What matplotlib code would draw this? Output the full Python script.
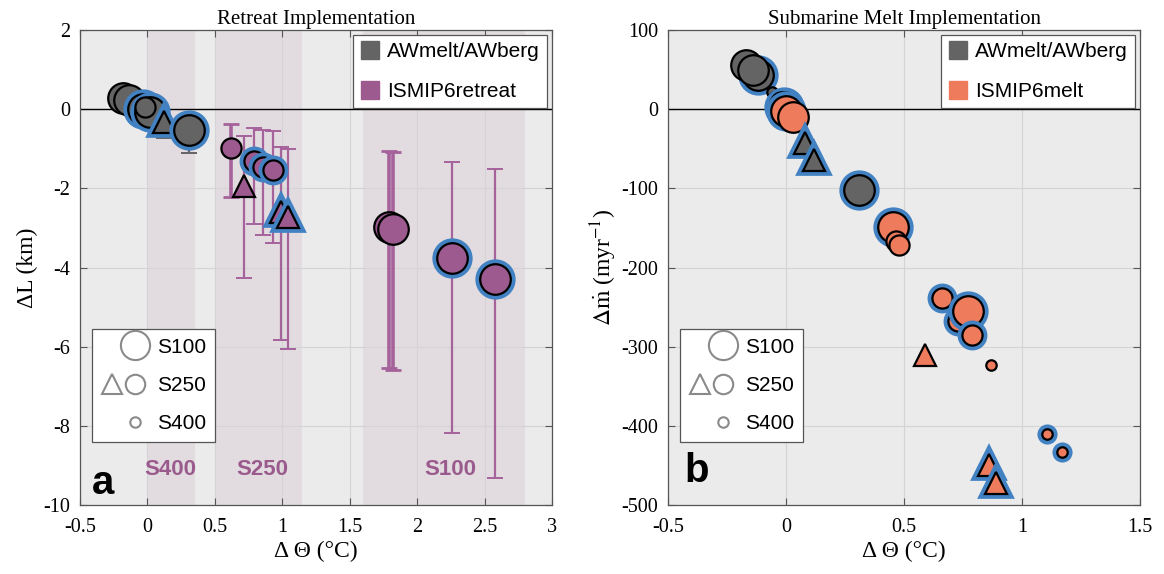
import matplotlib
matplotlib.use("Agg")
import matplotlib.pyplot as plt
from matplotlib.lines import Line2D
from matplotlib.legend_handler import HandlerTuple
from matplotlib.ticker import FormatStrFormatter

plt.rcParams['axes.unicode_minus'] = False
plt.rcParams['mathtext.fontset'] = 'stix'

GRAY = '#646464'
PURPLE = '#9c5a8e'
ORANGE = '#ee7b5b'
BLUE = '#4282c3'
BAND = '#e2dce0'
LABEL_PURPLE = '#9b5a8d'
SERIF = ['Liberation Serif', 'DejaVu Serif']
SANS = ['Liberation Sans', 'DejaVu Sans']

# marker size (pt) for each glacier resolution class
SIZES = {'S100': 22, 'S250': 14.5, 'S400': 7.5}

# ---- panel a: retreat implementation ----
ret_group = ['AW', 'AW', 'AW', 'AW', 'AW', 'AW', 'AW',
             'IS', 'IS', 'IS', 'IS', 'IS', 'IS', 'IS', 'IS', 'IS', 'IS', 'IS']
ret_dtheta = [-0.18, -0.14, -0.03, 0.02, -0.02, 0.12, 0.31,
              0.62, 0.72, 0.79, 0.86, 0.93, 0.99, 1.04, 1.79, 1.82, 2.26, 2.58]
ret_dL = [0.28, 0.22, 0.0, -0.08, 0.05, -0.33, -0.53,
          -0.99, -1.93, -1.32, -1.46, -1.54, -2.60, -2.73, -2.97, -3.02, -3.77, -4.30]
ret_low = [0.28, 0.22, 0.0, -0.08, 0.05, -0.72, -1.10,
           -2.22, -4.27, -2.91, -3.19, -3.39, -5.82, -6.05, -6.55, -6.60, -8.17, -9.33]
ret_high = [0.28, 0.22, 0.0, -0.08, 0.05, -0.33, -0.53,
            -0.38, -0.68, -0.48, -0.53, -0.55, -0.95, -1.00, -1.05, -1.08, -1.34, -1.52]
ret_size = ['S100', 'S100', 'S100', 'S100', 'S250', 'S250', 'S100',
            'S250', 'S250', 'S250', 'S250', 'S250', 'S250', 'S250', 'S100', 'S100', 'S100', 'S100']
ret_marker = ['o', 'o', 'o', 'o', 'o', '^', 'o',
              'o', '^', 'o', 'o', 'o', '^', '^', 'o', 'o', 'o', 'o']
ret_ring = [False, False, True, True, False, True, True,
            False, False, True, True, True, True, True, False, False, True, True]
ret_thick = [False] * 7 + [True] + [False] * 6 + [True, True, False, False]

# ---- panel b: submarine melt implementation ----
melt_group = ['AW', 'AW', 'AW', 'AW', 'AW', 'AW', 'AW',
              'IS', 'IS', 'AW', 'AW', 'AW',
              'IS', 'IS', 'IS', 'IS', 'IS', 'IS', 'IS', 'IS', 'IS', 'IS', 'IS', 'IS', 'IS']
melt_dtheta = [-0.12, -0.17, -0.14, -0.06, -0.05, -0.01, -0.02,
               0.0, 0.03, 0.08, 0.12, 0.31,
               0.455, 0.465, 0.48, 0.66, 0.73, 0.77, 0.79, 0.59, 0.87, 1.105, 1.17, 0.86, 0.89]
melt_dm = [43, 56, 49, 22, 16, 3, 9,
           -2, -10, -43, -64, -102,
           -149, -166, -172, -238, -267, -255, -285, -311, -323, -410, -433, -450, -472]
melt_size = ['S100', 'S100', 'S100', 'S400', 'S400', 'S100', 'S250',
             'S100', 'S100', 'S250', 'S250', 'S100',
             'S100', 'S250', 'S250', 'S250', 'S250', 'S100', 'S250', 'S250', 'S400',
             'S400', 'S400', 'S250', 'S250']
melt_marker = ['o', 'o', 'o', 'o', 'o', 'o', 'o',
               'o', 'o', '^', '^', 'o',
               'o', 'o', 'o', 'o', 'o', 'o', 'o', '^', 'o', 'o', 'o', '^', '^']
melt_ring = [True, False, False, False, False, True, False,
             True, False, True, True, True,
             True, False, False, True, True, True, True, False, False, True, True, True, True]

# resolution bands in panel a
band_lo = [0.0, 0.5, 1.6]
band_hi = [0.35, 1.15, 2.8]
band_names = ['S400', 'S250', 'S100']
band_text_x = [0.17, 0.85, 2.25]


def draw_points(ax, xs, ys, sizes, markers, rings, colors):
    for x, y, s, m, r, c in zip(xs, ys, sizes, markers, rings, colors):
        ms = SIZES[s] * (1.0 if m == 'o' else 1.05)
        if r:
            ax.plot(x, y, marker=m, ms=ms, mfc=BLUE, mec=BLUE, mew=7,
                    ls='none', zorder=3)
        ax.plot(x, y, marker=m, ms=ms, mfc=c, mec='black', mew=1.6,
                ls='none', zorder=3)


def style_axes(ax):
    ax.set_facecolor('#ebebeb')
    ax.set_axisbelow(True)
    ax.grid(True, color='#d4d4d4', lw=0.8)
    ax.axhline(0, color='black', lw=1.0, zorder=1)
    ax.tick_params(direction='in', top=True, right=True, length=5,
                   width=0.8, color='#555555', labelsize=14.5)
    ax.tick_params(axis='x', pad=9)
    ax.tick_params(axis='y', pad=7)
    for lbl in ax.get_xticklabels() + ax.get_yticklabels():
        lbl.set_family(SERIF)
    for sp in ax.spines.values():
        sp.set_color('#555555')
        sp.set_linewidth(0.9)
    ax.xaxis.set_major_formatter(FormatStrFormatter('%g'))
    ax.yaxis.set_major_formatter(FormatStrFormatter('%g'))


def size_legend(ax):
    blank = Line2D([], [], ls='none', marker='none')
    ring = dict(ls='none', mfc='none', mec='#8a8a8a', mew=1.5)
    big = Line2D([], [], marker='o', ms=21, **ring)
    mid = Line2D([], [], marker='o', ms=14, **ring)
    tri = Line2D([], [], marker='^', ms=15, **ring)
    small = Line2D([], [], marker='o', ms=7.5, **ring)
    leg = ax.legend([(blank, big), (tri, mid), (blank, small)],
                    ['S100', 'S250', 'S400'],
                    handler_map={tuple: HandlerTuple(ndivide=None, pad=0)},
                    loc='lower left', bbox_to_anchor=(0.025, 0.133),
                    borderaxespad=0, handlelength=2.2, handletextpad=0.5,
                    labelspacing=0.92, borderpad=0.42, fancybox=False,
                    framealpha=1, edgecolor='#555555',
                    prop={'family': SANS, 'size': 15})
    leg.get_frame().set_linewidth(0.9)
    return leg


def group_legend(ax, second_label, second_color):
    handles = [Line2D([], [], ls='none', marker='s', ms=13, mfc=GRAY, mec=GRAY),
               Line2D([], [], ls='none', marker='s', ms=13, mfc=second_color,
                      mec=second_color)]
    leg = ax.legend(handles, ['AWmelt/AWberg', second_label], loc='upper right',
                    bbox_to_anchor=(0.99, 0.99), borderaxespad=0,
                    handlelength=0.95, handletextpad=0.35, labelspacing=1.0,
                    borderpad=0.35, fancybox=False, framealpha=1,
                    edgecolor='#555555', prop={'family': SANS, 'size': 15})
    leg.get_frame().set_linewidth(0.9)
    return leg


fig = plt.figure(figsize=(11.64, 5.74), dpi=100)
ax1 = fig.add_axes([0.0687, 0.1202, 0.4055, 0.8275])
ax2 = fig.add_axes([0.5739, 0.1202, 0.4055, 0.8275])

# ---- panel a ----
style_axes(ax1)
for lo, hi in zip(band_lo, band_hi):
    ax1.axvspan(lo, hi, color=BAND, lw=0, zorder=0.2)
for name, tx in zip(band_names, band_text_x):
    ax1.text(tx, -9.1, name, color=LABEL_PURPLE, fontsize=16, fontweight='bold',
             family=SANS, ha='center', va='center')

ret_colors = [GRAY if g == 'AW' else PURPLE for g in ret_group]
for x, y, lo, hi, c, th in zip(ret_dtheta, ret_dL, ret_low, ret_high,
                               ret_colors, ret_thick):
    if lo == hi:
        continue
    ecol = GRAY if c == GRAY else '#a5629b'
    ax1.errorbar(x, y, yerr=[[y - lo], [hi - y]], fmt='none', ecolor=ecol,
                 elinewidth=2.6 if th else 1.6, capsize=5.5,
                 capthick=2.0 if th else 1.4, zorder=2)
draw_points(ax1, ret_dtheta, ret_dL, ret_size, ret_marker, ret_ring, ret_colors)

ax1.set_xlim(-0.5, 3)
ax1.set_ylim(-10, 2)
ax1.set_xticks([-0.5, 0, 0.5, 1, 1.5, 2, 2.5, 3])
ax1.set_yticks(range(-10, 3, 2))
ax1.set_xlabel('Δ Θ (°C)', family=SERIF, fontsize=17, labelpad=3)
ax1.set_ylabel('ΔL (km)', family=SERIF, fontsize=17, labelpad=4)
ax1.set_title('Retreat Implementation', family=SERIF, fontsize=15, pad=4)
ax1.text(-0.33, -9.45, 'a', fontsize=29, fontweight='bold', family=SANS,
         ha='center', va='center')
leg_a = group_legend(ax1, 'ISMIP6retreat', PURPLE)
ax1.add_artist(leg_a)
size_legend(ax1)

# ---- panel b ----
style_axes(ax2)
melt_colors = [GRAY if g == 'AW' else ORANGE for g in melt_group]
draw_points(ax2, melt_dtheta, melt_dm, melt_size, melt_marker, melt_ring,
            melt_colors)
ax2.set_xlim(-0.5, 1.5)
ax2.set_ylim(-500, 100)
ax2.set_xticks([-0.5, 0, 0.5, 1, 1.5])
ax2.set_yticks(range(-500, 101, 100))
ax2.set_xlabel('Δ Θ (°C)', family=SERIF, fontsize=17, labelpad=3)
ax2.set_ylabel(r'$\Delta\dot{\mathrm{m}}$ (myr$^{-1}$)', family=SERIF,
               fontsize=17, labelpad=2)
ax2.set_title('Submarine Melt Implementation', family=SERIF, fontsize=15, pad=4)
ax2.text(-0.38, -457, 'b', fontsize=29, fontweight='bold', family=SANS,
         ha='center', va='center')
leg_b = group_legend(ax2, 'ISMIP6melt', ORANGE)
ax2.add_artist(leg_b)
size_legend(ax2)

fig.savefig('out.png', dpi=100)
